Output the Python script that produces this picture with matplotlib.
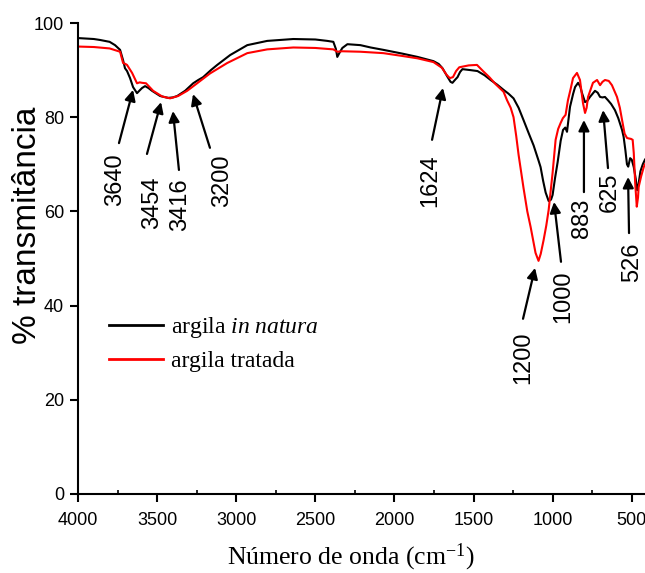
import matplotlib
matplotlib.use("Agg")
import matplotlib.pyplot as plt
from matplotlib.ticker import MultipleLocator

plt.rcParams['font.family'] = 'Liberation Sans'
plt.rcParams['mathtext.fontset'] = 'custom'
plt.rcParams['mathtext.rm'] = 'Liberation Serif'
plt.rcParams['mathtext.it'] = 'Liberation Serif:italic'

# argila in natura (black)
wn_natura = [4000, 3900, 3861, 3800, 3766, 3734, 3715, 3703, 3690, 3671, 3652, 3627,
             3610, 3595, 3576, 3555, 3532, 3481, 3430, 3400, 3373, 3323, 3272, 3240,
             3209, 3160, 3120, 3038, 2930, 2804, 2639, 2500, 2424, 2386, 2370, 2361,
             2345, 2329, 2297, 2215, 2150, 2070, 1950, 1854, 1753, 1720, 1696, 1665,
             1645, 1633, 1615, 1601, 1585, 1570, 1520, 1475, 1430, 1392, 1350, 1310,
             1279, 1247, 1215, 1184, 1150, 1120, 1089, 1076, 1060, 1044, 1025, 1010,
             1000, 985, 968, 949, 934, 920, 909, 890, 870, 858, 839, 825, 814, 795,
             780, 764, 732, 715, 700, 685, 669, 650, 630, 606, 585, 561, 551, 540,
             530, 522, 510, 500, 487, 475, 466, 458, 445, 430, 416]
t_natura = [96.8, 96.6, 96.4, 96.0, 95.3, 94.3, 92.1, 90.4, 89.8, 88.3, 86.4, 85.1,
            85.7, 86.2, 86.6, 86.2, 85.6, 84.5, 84.1, 84.2, 84.5, 85.6, 87.2, 87.9,
            88.5, 90.0, 91.1, 93.2, 95.3, 96.2, 96.6, 96.5, 96.2, 96.0, 94.5, 92.8,
            93.8, 94.7, 95.5, 95.3, 94.8, 94.3, 93.5, 92.8, 91.9, 91.3, 90.4, 88.6,
            87.5, 87.3, 88.0, 88.5, 89.6, 90.2, 90.0, 89.8, 88.9, 87.9, 86.9, 85.8,
            85.0, 84.0, 82.0, 79.4, 76.5, 74.0, 70.8, 69.4, 66.5, 64.0, 62.2, 62.5,
            63.5, 67.0, 70.5, 75.0, 77.3, 77.8, 76.9, 82.2, 85.0, 86.4, 87.3, 86.5, 85.1, 83.2,
            83.5, 84.3, 85.6, 85.2, 84.3, 84.2, 84.3, 83.6, 82.8, 81.5, 79.8, 77.3, 75.8, 73.0,
            70.0, 69.5, 71.3, 71.0, 69.4, 67.0, 64.5, 65.5, 68.5, 70.0, 71.0]

# argila tratada (red)
wn_tratada = [4000, 3900, 3800, 3734, 3715, 3700, 3690, 3658, 3627, 3610, 3595, 3570,
              3525, 3468, 3418, 3367, 3310, 3247, 3165, 3057, 2930, 2804, 2639, 2500,
              2386, 2361, 2329, 2215, 2070, 1950, 1854, 1753, 1700, 1670, 1650, 1630,
              1610, 1590, 1530, 1478, 1440, 1400, 1360, 1310, 1288, 1265, 1247, 1230,
              1215, 1184, 1160, 1139, 1108, 1089, 1075, 1057, 1040, 1025, 1000, 981,
              965, 949, 935, 918, 903, 886, 871, 846, 827, 808, 795, 785, 776, 745,
              719, 700, 685, 669, 645, 625, 593, 575, 561, 545, 530, 520, 505, 494,
              487, 478, 468, 460, 456, 440, 424, 416]
t_tratada = [95.0, 94.9, 94.6, 93.9, 91.5, 91.3, 91.1, 89.4, 87.2, 87.4, 87.3, 87.2,
             85.6, 84.4, 84.0, 84.5, 85.6, 87.2, 89.3, 91.5, 93.6, 94.4, 94.8, 94.7,
             94.4, 93.9, 94.0, 93.9, 93.6, 93.0, 92.5, 91.7, 90.5, 89.0, 88.3, 88.5,
             89.8, 90.6, 91.0, 91.1, 89.8, 88.5, 87.0, 85.4, 83.6, 82.0, 80.0, 76.0,
             72.0, 65.0, 60.0, 56.7, 51.2, 49.5, 51.0, 53.9, 57.0, 60.3, 68.2, 75.2,
             77.5, 78.8, 79.8, 80.5, 83.6, 86.0, 88.3, 89.4, 87.9, 83.0, 80.9, 82.0, 84.3, 87.3,
             87.9, 86.8, 87.5, 87.9, 87.7, 86.8, 84.3, 82.0, 79.4, 76.5, 75.6, 75.5, 75.4, 75.2,
             72.4, 66.0, 61.0, 63.0, 65.2, 67.5, 69.4, 70.0]

band_labels = ['3640', '3454', '3416', '3200', '1624', '1200', '1000', '883', '625', '526']

# arrow tip, arrow tail and label centre, in data units (layout)
arrow_tips = [(3652, 85.8), (3475, 83.2), (3400, 81.3), (3273, 84.9), (1693, 86.2),
              (1111, 48.0), (991, 62.0), (802, 79.4), (681, 81.5), (523, 67.3)]
arrow_tails = [(3741, 74.5), (3564, 72.2), (3362, 68.8), (3166, 73.5), (1762, 75.2),
               (1187, 37.2), (947, 49.3), (802, 64.1), (650, 69.2), (517, 55.4)]
label_pos = [(3766, 66.7), (3532, 61.8), (3355, 61.4), (3090, 66.5), (1775, 66.5),
             (1187, 28.9), (934, 41.8), (814, 58.6), (637, 64.1), (498, 49.3)]

fig = plt.figure(figsize=(6.45, 5.73), dpi=100)
ax = fig.add_axes([78 / 645, 79 / 573, 567 / 645, 471 / 573])

ax.plot(wn_natura, t_natura, color='black', lw=1.5, label='argila $\\mathit{in\\ natura}$')
ax.plot(wn_tratada, t_tratada, color='#ff0000', lw=1.5, label='argila tratada')

for lab, tip, tail, pos in zip(band_labels, arrow_tips, arrow_tails, label_pos):
    ax.annotate('', xy=tip, xytext=tail,
                arrowprops=dict(arrowstyle='-|>', color='black', lw=1.6,
                                mutation_scale=16, shrinkA=0, shrinkB=0))
    ax.text(pos[0], pos[1], lab, rotation=90, ha='center', va='center', fontsize=17)

ax.set_xlim(4000, 416)
ax.set_ylim(0, 100)
ax.xaxis.set_major_locator(MultipleLocator(500))
ax.xaxis.set_minor_locator(MultipleLocator(250))
ax.yaxis.set_major_locator(MultipleLocator(20))

for s in ['top', 'right']:
    ax.spines[s].set_visible(False)
for s in ['left', 'bottom']:
    ax.spines[s].set_linewidth(1.5)
ax.tick_params(which='major', direction='out', length=6, width=1.5, labelsize=13)
ax.tick_params(axis='x', which='major', pad=7)
ax.tick_params(axis='y', which='major', pad=4)
ax.tick_params(which='minor', direction='in', length=3, width=1.2)

ax.set_xlabel('Número de onda (cm$^{-1}$)', family='Liberation Serif', fontsize=18.5)
ax.xaxis.set_label_coords(0.481, -0.102)
ax.set_ylabel('% transmitância', fontsize=24)
ax.yaxis.set_label_coords(-0.062, 0.571)

leg = ax.legend(loc='upper left', bbox_to_anchor=(0.055, 0.38), frameon=False,
                prop={'family': 'Liberation Serif', 'size': 17}, handlelength=2.3,
                handletextpad=0.3, labelspacing=0.45, borderpad=0, borderaxespad=0)
for h in leg.get_lines():
    h.set_linewidth(2)

fig.savefig('out.png', dpi=100)
